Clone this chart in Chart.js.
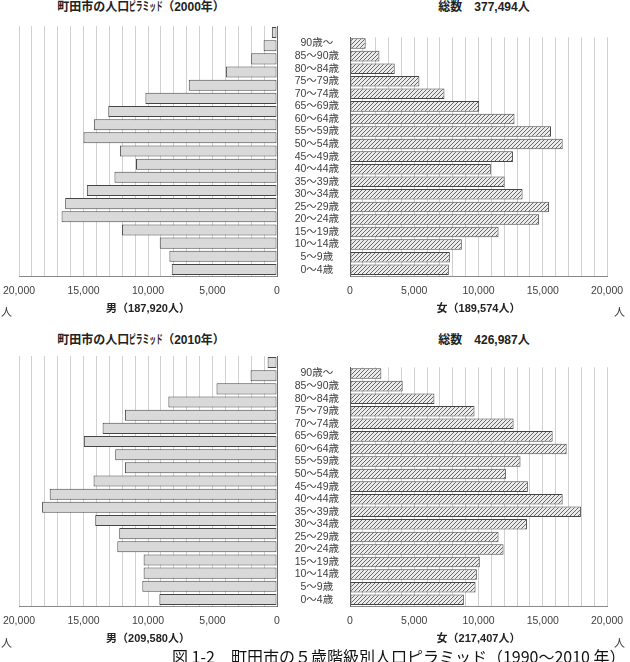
<!DOCTYPE html>
<html>
<head>
<meta charset="utf-8">
<script src="https://cdn.jsdelivr.net/npm/chart.js@4"></script>
<style>
  html, body { margin: 0; padding: 0; background: #fff; }
  body { width: 630px; height: 662px; position: relative; overflow: hidden;
         font-family: 'Liberation Sans', 'Noto Sans CJK JP', sans-serif; color: #222; }
  canvas, .txt { position: absolute; }
  .ttl { font-weight: bold; font-size: 12px; text-align: center; white-space: nowrap; line-height: 14px; }
  .ttl .kana { display: inline-block; width: 33px; transform: scaleX(0.56); transform-origin: left center;
               vertical-align: top; }
  .unit { font-size: 11px; line-height: 14px; color: #333; }
  .cap { font-family: 'Noto Sans CJK JP', sans-serif; font-size: 16px; line-height: 16px; color: #111; white-space: nowrap; }
</style>
</head>
<body>
<div class="txt ttl" style="left:0;top:0;width:282px">町田市の人口<span class="kana">ピラミッド</span>（2000年）</div>
<div class="txt ttl" style="left:384px;top:0;width:200px">総数　377,494人</div>
<canvas id="m2000" width="280" height="296" style="left:0;top:20px"></canvas>
<canvas id="f2000" width="350" height="296" style="left:280px;top:20px"></canvas>
<div class="txt unit" style="left:1px;top:305px">人</div>
<div class="txt unit" style="left:614px;top:305px">人</div>

<div class="txt ttl" style="left:0;top:333px;width:282px">町田市の人口<span class="kana">ピラミッド</span>（2010年）</div>
<div class="txt ttl" style="left:384px;top:333px;width:200px">総数　426,987人</div>
<canvas id="m2010" width="280" height="296" style="left:0;top:350px"></canvas>
<canvas id="f2010" width="350" height="296" style="left:280px;top:350px"></canvas>
<div class="txt unit" style="left:1px;top:636px">人</div>
<div class="txt unit" style="left:614px;top:636px">人</div>

<div class="txt cap" style="left:172px;top:648px">図 1-2　町田市の５歳階級別人口ピラミッド（1990～2010 年）</div>

<script>
// age groups, top to bottom
const ageGroups = ['90歳～', '85～90歳', '80～84歳', '75～79歳', '70～74歳', '65～69歳', '60～64歳',
  '55～59歳', '50～54歳', '45～49歳', '40～44歳', '35～39歳', '30～34歳', '25～29歳',
  '20～24歳', '15～19歳', '10～14歳', '5～9歳', '0～4歳'];

// 2000
const male2000 = [400, 1040, 2000, 3960, 6840, 10200, 13080, 14200, 15000, 12180,
  10930, 12600, 14740, 16420, 16700, 12020, 9090, 8340, 8160];
const female2000 = [1220, 2290, 3480, 5400, 7350, 10050, 12800, 15640, 16550, 12680,
  10960, 12030, 13430, 15480, 14700, 11560, 8700, 7770, 7690];

// 2010
const male2010 = [730, 2050, 4690, 8420, 11790, 13520, 14970, 12540, 11790, 14220,
  17620, 18210, 14090, 12230, 12380, 10340, 10340, 10440, 9120];
const female2010 = [2440, 4100, 6570, 9690, 12730, 15770, 16860, 13270, 12130, 13840,
  16550, 17970, 13770, 11560, 11950, 10100, 9870, 9770, 8860];

const xTicks = [0, 5000, 10000, 15000, 20000];

const FONT = "'Liberation Sans', 'Noto Sans CJK JP', sans-serif";

function makeHatch() {
  const c = document.createElement('canvas');
  c.width = 4; c.height = 4;
  const g = c.getContext('2d');
  g.fillStyle = '#ececec';
  g.fillRect(0, 0, 4, 4);
  g.strokeStyle = '#666';
  g.lineWidth = 1;
  g.beginPath();
  g.moveTo(0, 4); g.lineTo(4, 0);
  g.moveTo(-1, 1); g.lineTo(1, -1);
  g.moveTo(3, 5); g.lineTo(5, 3);
  g.stroke();
  return g.createPattern(c, 'repeat');
}

function xScale(reverse, title) {
  return {
    reverse: reverse,
    min: 0,
    max: 20000,
    ticks: {
      stepSize: 1000,
      autoSkip: false,
      maxRotation: 0,
      padding: 9,
      color: '#404040',
      font: { family: FONT, size: 10.5 },
      callback: v => xTicks.includes(v) ? v.toLocaleString('en-US') : ''
    },
    grid: { color: '#d0d0d0', drawTicks: false },
    border: { color: '#8a8a8a' },
    title: {
      display: true,
      text: title,
      color: '#222',
      font: { family: FONT, size: 11, weight: 'bold' },
      padding: { top: 0, bottom: 0 }
    },
    afterFit: s => {
      s.height = 40;
      // keep the plot edges where the layout padding puts them
      s.paddingLeft = 0;
      s.paddingRight = 0;
    }
  };
}

function createSide(id, values, isMale, title) {
  const ctx = document.getElementById(id).getContext('2d');
  return new Chart(ctx, {
    type: 'bar',
    data: {
      labels: ageGroups,
      datasets: [{
        data: values,
        backgroundColor: isMale ? '#d9d9d9' : makeHatch(),
        borderColor: '#454545',
        borderWidth: 1,
        borderSkipped: false,
        barPercentage: 0.84,
        categoryPercentage: 1
      }]
    },
    options: {
      indexAxis: 'y',
      responsive: false,
      animation: false,
      layout: {
        padding: isMale ? { left: 19, right: 3, top: 6, bottom: 0 }
                        : { left: 0, right: 23, top: 6, bottom: 0 }
      },
      plugins: { legend: { display: false }, tooltip: { enabled: false } },
      scales: {
        x: xScale(isMale, title),
        y: isMale ? {
          position: 'right',
          ticks: { display: false },
          grid: { display: false, drawTicks: false },
          border: { color: '#6a6a6a' },
          afterFit: s => { s.width = 0; }
        } : {
          position: 'left',
          ticks: {
            autoSkip: false,
            crossAlign: 'center',
            padding: 11,
            color: '#404040',
            font: { family: FONT, size: 10.5 }
          },
          grid: { display: false, drawTicks: false },
          border: { color: '#6a6a6a' },
          afterFit: s => { s.width = 70; }
        }
      }
    }
  });
}

createSide('m2000', male2000, true, '男（187,920人）');
createSide('f2000', female2000, false, '女（189,574人）');
createSide('m2010', male2010, true, '男（209,580人）');
createSide('f2010', female2010, false, '女（217,407人）');
</script>
</body>
</html>
